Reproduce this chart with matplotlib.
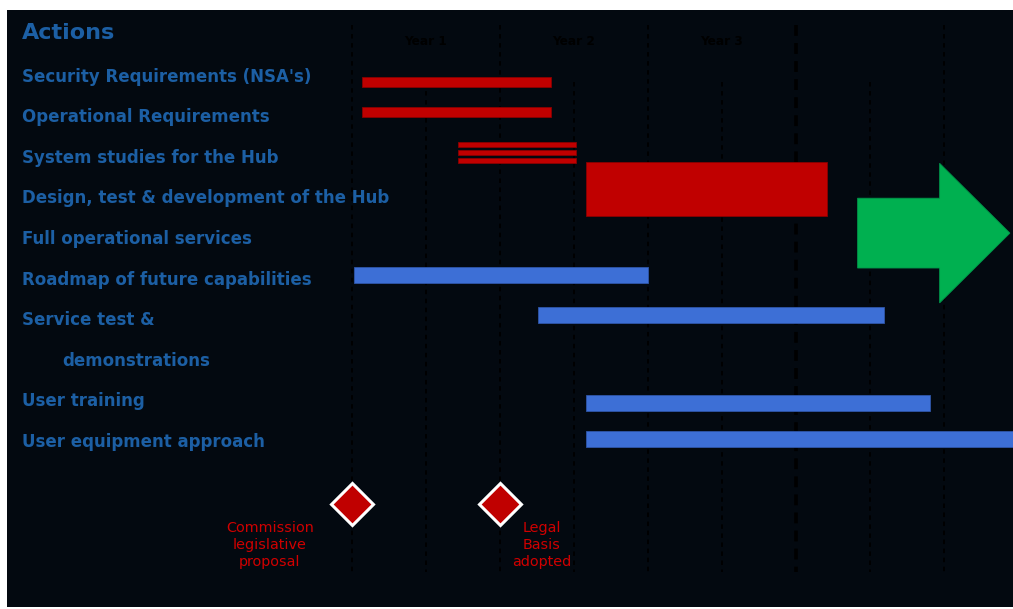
import matplotlib
matplotlib.use("Agg")
import matplotlib.pyplot as plt

# Timeline in months from project start; rows are label baselines (0 = first action)
actions = [
    "Security Requirements (NSA's)",
    "Operational Requirements",
    "System studies for the Hub",
    "Design, test & development of the Hub",
    "Full operational services",
    "Roadmap of future capabilities",
    "Service test &",
    "demonstrations",
    "User training",
    "User equipment approach",
]
indented = [False, False, False, False, False, False, False, True, False, False]

# red phase bars: (row, start month, end month, thickness in rows)
red_rows = [0.0, 0.75, 1.54, 1.74, 1.94, 2.65]
red_start = [0.8, 0.8, 8.6, 8.6, 8.6, 19.0]
red_end = [16.1, 16.1, 18.2, 18.2, 18.2, 38.5]
red_height = [0.25, 0.25, 0.12, 0.12, 0.12, 1.32]

# blue activity bars
blue_rows = [4.77, 5.75, 7.91, 8.80]
blue_start = [0.15, 15.1, 19.0, 19.0]
blue_end = [24.0, 43.1, 46.9, 56.0]

# open-ended operations arrow
arrow_row = 3.73
arrow_start = 41.0
arrow_end = 53.35

years = ["Year 1", "Year 2", "Year 3"]
year_marks = [0, 12, 24, 36, 48]
half_marks = [6, 18, 30, 42]

milestone_month = [0, 12]
milestone_row = 10.4
milestone_text = ["Commission\nlegislative\nproposal", "Legal\nBasis\nadopted"]
milestone_text_x = [-6.65, 15.4]

bg = "#030910"
label_blue = "#1c5fa4"
bar_red = "#c00000"
bar_blue = "#3d6fd6"

fig = plt.figure(figsize=(10.13, 6.09), dpi=100, facecolor="white")
ax = fig.add_axes([7 / 1013, 2 / 609, 1006 / 1013, 597 / 609])
ax.set_facecolor(bg)
ax.set_xlim(-27.97, 53.6)
ax.set_ylim(12.94, -1.766)
for s in ax.spines.values():
    s.set_visible(False)
ax.set_xticks([])
ax.set_yticks([])

# grid of year / half-year dashed lines
for m in year_marks:
    thick = m == 36
    ax.plot([m, m], [-1.4, 12.08], color="black",
            lw=2.6 if thick else 1.3,
            dashes=(3, 2) if thick else (2.5, 2.5), zorder=1)
for m in half_marks:
    ax.plot([m, m], [0.0, 12.08], color="black", lw=1.3,
            dashes=(2.5, 2.5), zorder=1)
for i, name in enumerate(years):
    ax.text(half_marks[i], -0.98, name, color="black", fontsize=8.7,
            fontweight="bold", ha="center", va="center", zorder=2)

# action labels
ax.text(15 / 1006, -1.04, "Actions", transform=ax.get_yaxis_transform(),
        color=label_blue, fontsize=16, fontweight="bold", va="baseline")
for i, (name, ind) in enumerate(zip(actions, indented)):
    x = 55 / 1006 if ind else 15 / 1006
    ax.text(x, i, name, transform=ax.get_yaxis_transform(),
            color=label_blue, fontsize=12.0, fontweight="bold", va="baseline")

ax.barh(red_rows, [e - s for s, e in zip(red_start, red_end)], left=red_start,
        height=red_height, color=bar_red, edgecolor="#8a0000", lw=0.6, zorder=3)
ax.barh(blue_rows, [e - s for s, e in zip(blue_start, blue_end)], left=blue_start,
        height=0.39, color=bar_blue, edgecolor="#2f56a8", lw=0.6, zorder=3)

ax.arrow(arrow_start, arrow_row, arrow_end - arrow_start, 0,
         width=1.72, head_width=3.44, head_length=5.7,
         length_includes_head=True, color="#00b050", ec="#00944a", lw=0.6,
         zorder=3)

# milestones
ax.plot(milestone_month, [milestone_row] * len(milestone_month), ls="none",
        marker="D", ms=21, mfc=bar_red, mec="white", mew=2.2, zorder=4)
for x, txt in zip(milestone_text_x, milestone_text):
    ax.text(x, 11.41, txt, color="#d00000", fontsize=10.4, ha="center",
            va="center", linespacing=1.25, zorder=4)

fig.savefig("out.png", dpi=100, facecolor="white")
